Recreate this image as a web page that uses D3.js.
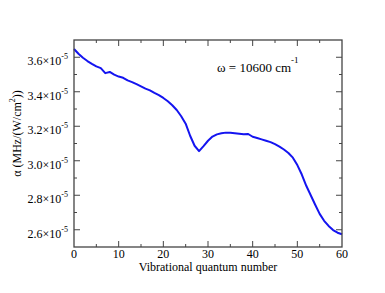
<!DOCTYPE html>
<html><head><meta charset="utf-8">
<script src="https://cdn.jsdelivr.net/npm/d3@7"></script>
<style>
html,body{margin:0;padding:0;background:#fff;}
svg text{font-family:"Liberation Serif","Times New Roman",serif;}
</style></head>
<body><svg id="c" width="385" height="293"></svg>
<script>
const xs = [0,1,2,3,4,5,6,7,8,9,10,11,12,13,14,15,16,17,18,19,20,21,22,23,24,25,26,27,28,29,30,31,32,33,34,35,36,37,38,39,40,41,42,43,44,45,46,47,48,49,50,51,52,53,54,55,56,57,58,59,60];
const alpha = [3.648,3.620,3.597,3.578,3.562,3.547,3.537,3.508,3.515,3.499,3.488,3.481,3.466,3.456,3.444,3.431,3.418,3.408,3.393,3.380,3.364,3.345,3.322,3.294,3.258,3.215,3.145,3.087,3.056,3.085,3.116,3.140,3.153,3.159,3.163,3.163,3.160,3.157,3.153,3.155,3.139,3.132,3.124,3.116,3.108,3.096,3.082,3.065,3.045,3.018,2.975,2.920,2.855,2.800,2.745,2.692,2.652,2.622,2.598,2.583,2.574];
const xTicks = [0,10,20,30,40,50,60];
const yTicks = [2.6,2.8,3.0,3.2,3.4,3.6];
const yTickLabels = ["2.6","2.8","3.0","3.2","3.4","3.6"];

const FONT='"Liberation Serif","Times New Roman",serif';
const L=74,R=342,T=40,B=247;
const svg=d3.select("#c");
const x=d3.scaleLinear().domain([0,60]).range([L,R]);
const y=d3.scaleLinear().domain([2.5,3.7]).range([B,T]);
const axCol="#444";

const xMinor=d3.range(5,60,10), yMinor=[2.7,2.9,3.1,3.3,3.5];
const g=svg.append("g");
function tick(x1,y1,x2,y2){g.append("line").attr("x1",x1).attr("y1",y1).attr("x2",x2).attr("y2",y2).attr("stroke",axCol).attr("stroke-width",1);}
xTicks.slice(1,-1).forEach(v=>{tick(x(v),B,x(v),B-6);tick(x(v),T,x(v),T+6);});
xMinor.forEach(v=>{tick(x(v),B,x(v),B-3);tick(x(v),T,x(v),T+3);});
yTicks.forEach(v=>{tick(L,y(v),L+6,y(v));tick(R,y(v),R-6,y(v));});
yMinor.forEach(v=>{tick(L,y(v),L+3,y(v));tick(R,y(v),R-3,y(v));});

svg.append("path").datum(xs.map((d,i)=>[d,alpha[i]]))
  .attr("d",d3.line().x(d=>x(d[0])).y(d=>y(d[1])))
  .attr("fill","none").attr("stroke","#1414f0").attr("stroke-width",2).attr("stroke-linejoin","round");

svg.append("rect").attr("x",L).attr("y",T).attr("width",R-L).attr("height",B-T)
  .attr("fill","none").attr("stroke",axCol).attr("stroke-width",1.3);

function txt(){return svg.append("text").attr("font-family",FONT).attr("fill","#000");}
xTicks.forEach(v=>txt().attr("x",x(v)).attr("y",B+11).attr("text-anchor","middle")
  .attr("font-size",12).text(v));
yTicks.forEach((v,i)=>{
  const t=txt().attr("x",L-6).attr("y",y(v)+8).attr("text-anchor","end").attr("font-size",12);
  t.append("tspan").text(yTickLabels[i]+"\u00d710");
  t.append("tspan").attr("dy",-6).attr("font-size",8).text("-5");
});
txt().attr("x",(L+R)/2).attr("y",B+24).attr("text-anchor","middle").attr("font-size",12)
  .text("Vibrational quantum number");
const yt=txt().attr("transform",`translate(21,${(T+B)/2 - 10}) rotate(-90)`).attr("text-anchor","middle").attr("font-size",12);
yt.append("tspan").text("\u03b1 (MHz/(W/cm");
yt.append("tspan").attr("dy",-6).attr("font-size",8).text("2");
yt.append("tspan").attr("dy",6).text("))");
const an=txt().attr("x",217).attr("y",72).attr("font-size",13);
an.append("tspan").text("\u03c9 = 10600 cm");
an.append("tspan").attr("dy",-9).attr("font-size",9).text("-1");
</script></body></html>
